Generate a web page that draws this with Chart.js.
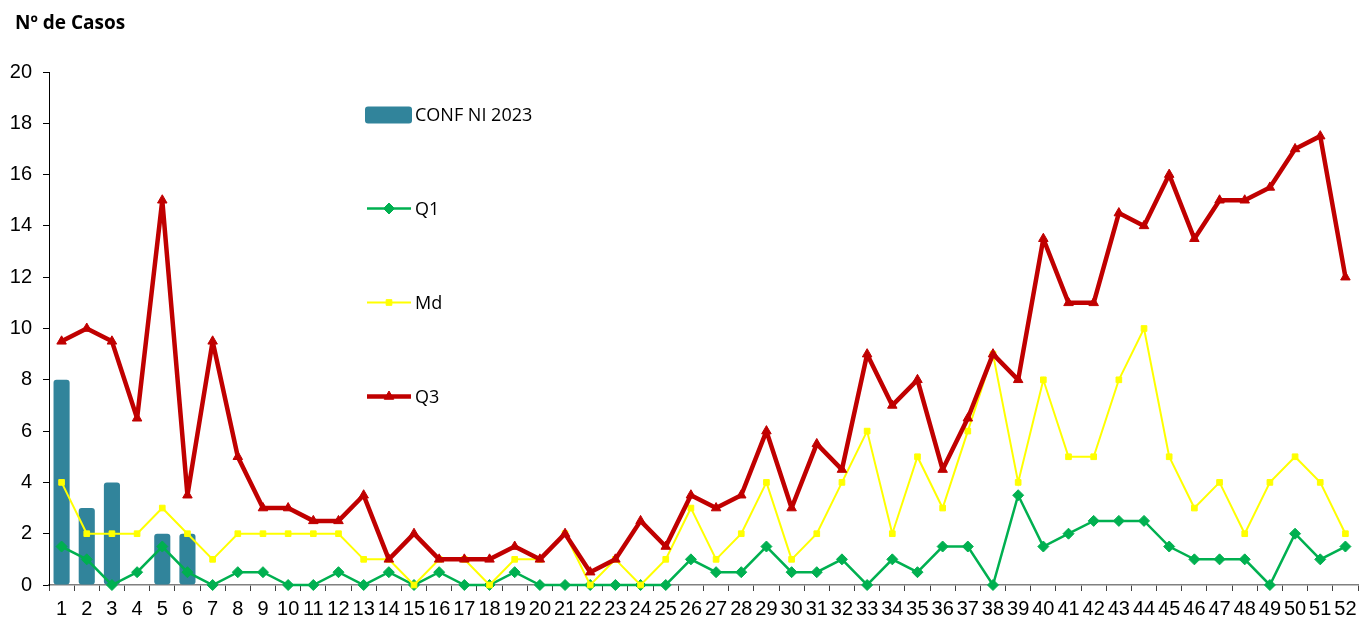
<!DOCTYPE html>
<html><head><meta charset="utf-8">
<script src="https://cdn.jsdelivr.net/npm/chart.js@4.4.1/dist/chart.umd.min.js"></script>
<style>html,body{margin:0;padding:0;background:#fff;overflow:hidden}
#wrap{position:relative;width:1359px;height:621px}</style>
</head><body>
<div id="wrap"><canvas id="c" width="1359" height="621"></canvas></div>
<script>
const weeks = ['1','2','3','4','5','6','7','8','9','10','11','12','13','14','15','16','17','18','19','20','21','22','23','24','25','26','27','28','29','30','31','32','33','34','35','36','37','38','39','40','41','42','43','44','45','46','47','48','49','50','51','52'];
const conf2023 = [8,3,4,null,2,2];
const q1 = [1.5,1,0,0.5,1.5,0.5,0,0.5,0.5,0,0,0.5,0,0.5,0,0.5,0,0,0.5,0,0,0,0,0,0,1,0.5,0.5,1.5,0.5,0.5,1,0,1,0.5,1.5,1.5,0,3.5,1.5,2,2.5,2.5,2.5,1.5,1,1,1,0,2,1,1.5];
const md = [4,2,2,2,3,2,1,2,2,2,2,2,1,1,0,1,1,0,1,1,2,0,1,0,1,3,1,2,4,1,2,4,6,2,5,3,6,9,4,8,5,5,8,10,5,3,4,2,4,5,4,2];
const q3 = [9.5,10,9.5,6.5,15,3.5,9.5,5,3,3,2.5,2.5,3.5,1,2,1,1,1,1.5,1,2,0.5,1,2.5,1.5,3.5,3,3.5,6,3,5.5,4.5,9,7,8,4.5,6.5,9,8,13.5,11,11,14.5,14,16,13.5,15,15,15.5,17,17.5,12];
const yTicks = [0,2,4,6,8,10,12,14,16,18,20];
const titleText = 'Nº de Casos';
const seriesNames = ['CONF NI 2023','Q1','Md','Q3'];

const COL_BAR = '#31849B', COL_Q1 = '#00B050', COL_MD = '#FFFF00', COL_Q3 = '#C00000';
const LEG_FONT = '18px "Open Sans"';
const TICK_FONT = {family: '"Liberation Sans", Arial, sans-serif', size: 20};

const extras = {
  id: 'extras',
  afterDraw(chart) {
    const ctx = chart.ctx;
    ctx.save();
    ctx.fillStyle = '#000';
    ctx.font = 'bold 19px "Open Sans"';
    ctx.textBaseline = 'alphabetic';
    ctx.textAlign = 'left';
    ctx.fillText(titleText, 15, 29);
    const lx = 365, tx = 415;
    const rows = [115, 208.5, 302.5, 396.5];
    ctx.font = LEG_FONT;
    ctx.textBaseline = 'middle';
    ctx.fillStyle = COL_BAR;
    ctx.beginPath();
    ctx.roundRect(lx, rows[0] - 8.5, 47, 17, 3);
    ctx.fill();
    const lineItems = [
      {y: rows[1], c: COL_Q1, w: 2.5, s: 'rectRot', r: 5.5},
      {y: rows[2], c: COL_MD, w: 2, s: 'rect', r: 4},
      {y: rows[3], c: COL_Q3, w: 4.5, s: 'triangle', r: 5.5}
    ];
    lineItems.forEach(it => {
      ctx.strokeStyle = it.c; ctx.lineWidth = it.w;
      ctx.beginPath(); ctx.moveTo(lx + 2, it.y); ctx.lineTo(lx + 46, it.y); ctx.stroke();
      ctx.fillStyle = it.c; ctx.lineWidth = 1;
      Chart.helpers.drawPoint(ctx, {pointStyle: it.s, radius: it.r, borderWidth: 1, rotation: 0}, lx + 24, it.y);
    });
    ctx.fillStyle = '#000';
    seriesNames.forEach((n, i) => ctx.fillText(n, tx, rows[i] + 1));
    ctx.restore();
  }
};

new Chart(document.getElementById('c'), {
  type: 'bar',
  data: {
    labels: weeks,
    datasets: [
      {type: 'line', label: seriesNames[3], data: q3, order: 1, borderColor: COL_Q3, backgroundColor: COL_Q3,
       borderWidth: 4.5, borderJoinStyle: 'bevel', pointStyle: 'triangle', pointRadius: 5.5, pointBorderWidth: 1, tension: 0, clip: false},
      {type: 'line', label: seriesNames[2], data: md, order: 2, borderColor: COL_MD, backgroundColor: COL_MD,
       borderWidth: 2, pointStyle: 'rect', pointRadius: 4, pointBorderWidth: 1, tension: 0, clip: false},
      {type: 'line', label: seriesNames[1], data: q1, order: 3, borderColor: COL_Q1, backgroundColor: COL_Q1,
       borderWidth: 2.5, pointStyle: 'rectRot', pointRadius: 5.5, pointBorderWidth: 1, tension: 0, clip: false},
      {type: 'bar', label: seriesNames[0], data: conf2023, order: 4, backgroundColor: COL_BAR,
       borderRadius: 3, borderSkipped: false, categoryPercentage: 1, barPercentage: 0.64}
    ]
  },
  options: {
    responsive: false,
    animation: false,
    devicePixelRatio: 1,
    layout: {autoPadding: false, padding: {top: 72, right: 1, left: 0, bottom: 0}},
    plugins: {legend: {display: false}, tooltip: {enabled: false}, title: {display: false}},
    scales: {
      x: {
        offset: true,
        grid: {drawOnChartArea: false, drawTicks: true, tickLength: 6, color: '#404040', offset: true},
        border: {color: '#808080', width: 1.5},
        ticks: {color: '#000', font: TICK_FONT, padding: 6, maxRotation: 0, autoSkip: false},
        afterFit: s => { s.height = 36; s.paddingLeft = 0; s.paddingRight = 0; }
      },
      y: {
        min: 0, max: 20,
        afterBuildTicks: s => { s.ticks = yTicks.map(v => ({value: v})); },
        grid: {drawOnChartArea: false, drawTicks: true, tickLength: 6, color: '#000'},
        border: {color: '#000', width: 1},
        ticks: {color: '#000', font: TICK_FONT, padding: 11},
        afterFit: s => { s.width = 49; s.paddingTop = 0; s.paddingBottom = 0; }
      }
    }
  },
  plugins: [extras]
});
</script>
</body></html>
